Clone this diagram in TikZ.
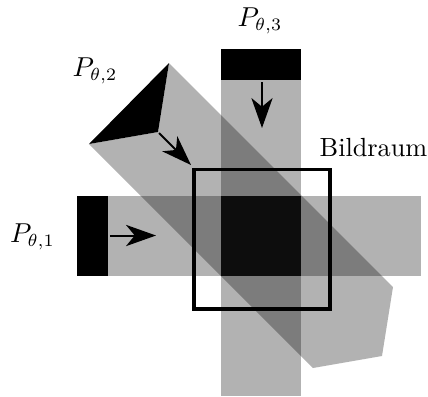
\documentclass[tikz,border=0pt]{standalone}
\usetikzlibrary{arrows.meta}
\begin{document}
\begin{tikzpicture}[x=0.4pt,y=-0.4pt,
  beam/.style={fill=black,fill opacity=0.3,draw=none},
  detector/.style={fill=black,draw=none},
  ray/.style={line width=0.8pt,-{Stealth[length=12pt,width=8.5pt,inset=3.5pt]}},
  frame/.style={draw=black,line width=1.4pt},
  lbl/.style={font=\fontsize{10.5}{12}\selectfont,inner sep=0pt,anchor=base}]
\useasboundingbox (0,0) rectangle (428,396);
% horizontal projection
\fill[beam] (108,195.5) rectangle (421.5,276);
\fill[detector] (77,195.5) rectangle (108,276);
% vertical projection
\fill[beam] (221.5,80) rectangle (301.5,396);
\fill[detector] (221.5,49) rectangle (301.5,80);
% diagonal projection
\fill[beam] (89,144) -- (158,132) -- (169,63) -- (393,287) -- (382,356) -- (313,368) -- cycle;
\fill[detector] (89,144) -- (169,63) -- (158,132) -- cycle;
% centre overlap
\fill[black!95] (221.5,195.5) rectangle (301.5,276);
% image space
\draw[frame] (194,169.5) rectangle (330,309);
% arrows
\coordinate (a1s) at (110,235.5); \coordinate (a1e) at (156,235.5);
\coordinate (a2s) at (159,133);   \coordinate (a2e) at (191,165);
\coordinate (a3s) at (262,82);    \coordinate (a3e) at (262,128);
\draw[ray] (a1s) -- (a1e);
\draw[ray] (a2s) -- (a2e);
\draw[ray] (a3s) -- (a3e);
% labels
\node[lbl] (p1) at (32.5,242) {$P_{\theta,1}$};
\node[lbl] (p2) at (95,76) {$P_{\theta,2}$};
\node[lbl] (p3) at (260,26) {$P_{\theta,3}$};
\node[lbl] (br) at (373.5,156) {Bildraum};
\end{tikzpicture}
\end{document}
